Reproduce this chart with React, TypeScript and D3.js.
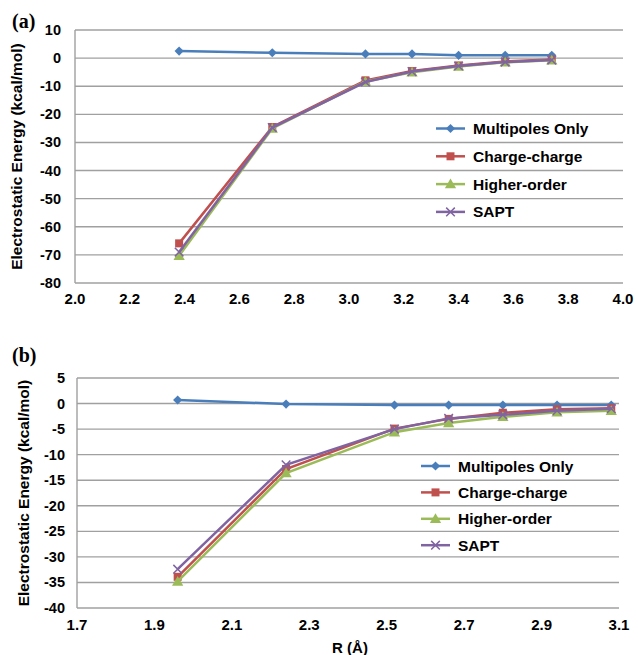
import React from "react";
import * as d3 from "d3";

// panel (a)
const rA = [2.38, 2.72, 3.06, 3.23, 3.4, 3.57, 3.74];
const multipolesA = [2.5, 1.9, 1.5, 1.5, 1.0, 1.0, 1.0];
const chargeA = [-65.9, -24.5, -7.9, -4.6, -2.6, -1.2, -0.5];
const higherA = [-70.3, -25.0, -8.3, -5.0, -3.0, -1.5, -0.8];
const saptA = [-69.0, -24.7, -8.5, -4.8, -2.8, -1.4, -0.7];
const yTicksA = [10, 0, -10, -20, -30, -40, -50, -60, -70, -80];
const xTicksA = [2.0, 2.2, 2.4, 2.6, 2.8, 3.0, 3.2, 3.4, 3.6, 3.8, 4.0];

// panel (b)
const rB = [1.96, 2.24, 2.52, 2.66, 2.8, 2.94, 3.08];
const multipolesB = [0.7, -0.1, -0.3, -0.3, -0.3, -0.3, -0.3];
const chargeB = [-33.9, -12.8, -4.9, -3.0, -1.8, -1.1, -0.9];
const higherB = [-34.8, -13.6, -5.6, -3.8, -2.6, -1.7, -1.4];
const saptB = [-32.4, -12.0, -5.0, -2.9, -2.2, -1.4, -1.0];
const yTicksB = [5, 0, -5, -10, -15, -20, -25, -30, -35, -40];
const xTicksB = [1.7, 1.9, 2.1, 2.3, 2.5, 2.7, 2.9, 3.1];

const seriesNames = ["Multipoles Only", "Charge-charge", "Higher-order", "SAPT"];
const colors = ["#4a7ebb", "#c0504d", "#9bbb59", "#8064a2"];
const markers = ["diamond", "square", "triangle", "x"];

const font = "'Liberation Sans', Arial, sans-serif";

function Marker({ kind, x, y, color }: { kind: string; x: number; y: number; color: string }) {
  if (kind === "diamond") {
    const d = d3.symbol(d3.symbolSquare, 42)();
    return <path d={d || ""} transform={`translate(${x},${y}) rotate(45)`} fill={color} />;
  }
  if (kind === "square") {
    const d = d3.symbol(d3.symbolSquare, 64)();
    return <path d={d || ""} transform={`translate(${x},${y})`} fill={color} />;
  }
  if (kind === "triangle") {
    const d = d3.symbol(d3.symbolTriangle, 55)();
    return <path d={d || ""} transform={`translate(${x},${y + 1})`} fill={color} />;
  }
  const d = d3.symbol(d3.symbolX, 50)();
  return <path d={d || ""} transform={`translate(${x},${y})`} fill="none" stroke={color} strokeWidth={1.5} />;
}

type PanelProps = {
  label: string;
  labelY: number;
  xs: number[];
  series: number[][];
  xDomain: [number, number];
  yDomain: [number, number];
  xTicks: number[];
  yTicks: number[];
  left: number;
  right: number;
  top: number;
  bottom: number;
  tickRight: number;
  titleX: number;
  xTickY: number;
  legendX: number;
  legendY: number;
  legendStep: number;
};

function Panel(p: PanelProps) {
  const x = d3.scaleLinear().domain(p.xDomain).range([p.left, p.right]);
  const y = d3.scaleLinear().domain(p.yDomain).range([p.bottom, p.top]);
  const ln = d3
    .line<number>()
    .x((_, i) => x(p.xs[i]))
    .y((v) => y(v));
  return (
    <g>
      <text x={12} y={p.labelY} fontFamily="'Liberation Serif', 'Times New Roman', serif" fontWeight="bold" fontSize={20}>
        {p.label}
      </text>
      {p.yTicks.map((t) => (
        <g key={t}>
          <line x1={p.left} x2={p.right} y1={y(t)} y2={y(t)} stroke="#a0a0a0" strokeWidth={1.4} />
          <text x={p.tickRight} y={y(t) + 5} textAnchor="end" fontFamily={font} fontWeight="bold" fontSize={14.5}>
            {t}
          </text>
        </g>
      ))}
      <line x1={p.left} x2={p.left} y1={p.top} y2={p.bottom} stroke="#a0a0a0" strokeWidth={1.4} />
      {p.xTicks.map((t) => (
        <text key={t} x={x(t)} y={p.xTickY} textAnchor="middle" fontFamily={font} fontWeight="bold" fontSize={15}>
          {t.toFixed(1)}
        </text>
      ))}
      <text
        transform={`translate(${p.titleX},${(p.top + p.bottom) / 2}) rotate(-90)`}
        textAnchor="middle"
        fontFamily={font}
        fontWeight="bold"
        fontSize={15.5}
      >
        Electrostatic Energy (kcal/mol)
      </text>
      {p.series.map((vals, si) => (
        <g key={si}>
          <path d={ln(vals) || ""} fill="none" stroke={colors[si]} strokeWidth={2.5} />
          {vals.map((v, i) => (
            <Marker key={i} kind={markers[si]} x={x(p.xs[i])} y={y(v)} color={colors[si]} />
          ))}
        </g>
      ))}
      {seriesNames.map((name, si) => {
        const ly = p.legendY + si * p.legendStep;
        return (
          <g key={name}>
            <line x1={p.legendX} x2={p.legendX + 29} y1={ly} y2={ly} stroke={colors[si]} strokeWidth={2.5} />
            <Marker kind={markers[si]} x={p.legendX + 14.5} y={ly} color={colors[si]} />
            <text x={p.legendX + 37} y={ly + 5.5} fontFamily={font} fontWeight="bold" fontSize={15.5}>
              {name}
            </text>
          </g>
        );
      })}
    </g>
  );
}

export default function App() {
  return (
    <svg width={638} height={655} style={{ position: "absolute", left: 0, top: 0, background: "#fff" }}>
      <Panel
        label="(a)"
        labelY={28}
        xs={rA}
        series={[multipolesA, chargeA, higherA, saptA]}
        xDomain={[2.0, 4.0]}
        yDomain={[-80, 10]}
        xTicks={xTicksA}
        yTicks={yTicksA}
        left={75}
        right={623}
        top={30}
        bottom={283}
        tickRight={61}
        titleX={22}
        xTickY={304}
        legendX={436}
        legendY={128.5}
        legendStep={27.8}
      />
      <Panel
        label="(b)"
        labelY={362}
        xs={rB}
        series={[multipolesB, chargeB, higherB, saptB]}
        xDomain={[1.7, 3.1]}
        yDomain={[-40, 5]}
        xTicks={xTicksB}
        yTicks={yTicksB}
        left={77}
        right={619}
        top={378}
        bottom={608}
        tickRight={65}
        titleX={29}
        xTickY={630}
        legendX={421}
        legendY={466}
        legendStep={26.4}
      />
      <text x={350} y={653} textAnchor="middle" fontFamily={font} fontWeight="bold" fontSize={15}>
        R (Å)
      </text>
    </svg>
  );
}
